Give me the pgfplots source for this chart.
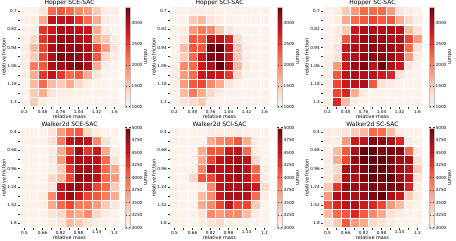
\documentclass[border=0pt]{standalone}
\usepackage{fontspec}
\setmainfont{DejaVu Sans}
\usepackage{pgfplots}
\pgfplotsset{compat=1.18}
\newcommand{\tfs}{\fontsize{4.2}{5}\selectfont}
\newcommand{\lfs}{\fontsize{4.9}{6}\selectfont}
\pgfplotsset{
 colormap={reds}{rgb255=(255,245,240) rgb255=(254,224,210) rgb255=(252,187,161) rgb255=(252,146,114) rgb255=(251,106,74) rgb255=(239,59,44) rgb255=(203,24,29) rgb255=(165,15,21) rgb255=(103,0,13)},
 heat/.style={
   scale only axis, width=99pt, height=100pt, anchor=north west,
   xmin=-0.5, xmax=10.5, ymin=-0.5, ymax=10.5, y dir=reverse,
   axis line style={draw=none},
   xtick={0,...,10}, ytick={0,...,10},
   tick pos=left, tick align=outside, major tick length=2pt,
   tick style={black!80, line width=0.4pt},
   ticklabel style={font=\tfs, inner sep=1pt},
   title style={font=\fontsize{6}{7}\selectfont, inner sep=0.5pt, anchor=south, at={(axis description cs:0.5,1)}, yshift=-6pt},
   label style={font=\lfs},
   xlabel={relative mass}, ylabel={relative friction},
   xlabel style={inner sep=0.5pt},
   ylabel style={inner sep=0.5pt},
   colormap name=reds,
   colorbar,
 },
 cb/.style={width=5.5pt, at={(parent axis.north east)}, anchor=north west,
   axis line style={draw=black!25, line width=0.3pt},
   ytick style={black!80, line width=0.4pt}, major tick length=1.5pt,
   yticklabel style={font=\tfs, inner sep=1pt},
   ylabel={return}, ylabel style={font=\lfs, rotate=180, inner sep=0.5pt},
   scaled y ticks=false},
 hop/.style={point meta min=1000, point meta max=3400,
   xticklabels={0.2,,0.48,,0.76,,1.04,,1.32,,1.6},
   yticklabels={0.7,,0.82,,0.94,,1.06,,1.18,,1.3}},
 hopcb/.style={ytick={1000,1500,2000,2500,3000}, yticklabels={1000,1500,2000,2500,3000}},
 wal/.style={point meta min=3000, point meta max=5000,
   xticklabels={0.5,,0.66,,0.82,,0.98,,1.14,,1.3},
   yticklabels={0.4,,0.68,,0.96,,1.24,,1.52,,1.8}},
 walcb/.style={ytick={3000,3250,3500,3750,4000,4250,4500,4750,5000}, yticklabels={3000,3250,3500,3750,4000,4250,4500,4750,5000}},
 cell/.style={scatter, only marks, mark=square*, mark size=4.5pt,
   scatter/use mapped color={draw=white, fill=mapped color},
   mark options={line width=0.8pt}, point meta=explicit},
}
\pgfkeys{/pgfplots/table/grid11/.style={row sep=\\, header=false, x expr={mod(\coordindex,11)}, y expr={floor(\coordindex/11)}, meta index=0}}
\begin{document}
\begin{tikzpicture}
\path[use as bounding box] (0,0) rectangle (456pt,241pt);
% ---------- Hopper SCE-SAC
\begin{axis}[heat, hop, at={(20pt,234.3pt)}, title={Hopper SCE-SAC},
  colorbar style={cb, hopcb, xshift=-2.5pt}]
\addplot[cell] table[grid11] {
1050\\1050\\1240\\2200\\2320\\2200\\1960\\1840\\1480\\1120\\1120\\
1050\\1120\\1720\\2920\\2920\\2920\\2560\\2200\\1720\\1120\\1050\\
1050\\1120\\2560\\2800\\3040\\3040\\2920\\2800\\1720\\1120\\1050\\
1050\\1360\\2560\\2920\\3160\\3160\\3040\\2920\\1720\\1480\\1120\\
1120\\1600\\2440\\3040\\3210\\3160\\3210\\3040\\2440\\1840\\1240\\
1120\\1480\\2440\\3040\\3280\\3280\\3210\\3040\\2320\\1360\\1120\\
1120\\2080\\2320\\3040\\3110\\3210\\3280\\3040\\1720\\1120\\1050\\
1120\\1720\\2560\\2920\\2560\\2200\\2320\\1720\\1240\\1050\\1050\\
1050\\1600\\2200\\1600\\1480\\1720\\1360\\1120\\1050\\1050\\1050\\
1050\\1480\\1720\\1240\\1120\\1120\\1070\\1050\\1050\\1050\\1050\\
1050\\1480\\1120\\1050\\1050\\1050\\1050\\1050\\1050\\1050\\1050\\
};
\end{axis}
% ---------- Hopper SCI-SAC
\begin{axis}[heat, hop, at={(170pt,234.3pt)}, title={Hopper SCI-SAC},
  colorbar style={cb, hopcb, xshift=-0.5pt}]
\addplot[cell] table[grid11] {
1050\\1050\\1120\\1120\\1120\\1070\\1050\\1050\\1050\\1050\\1050\\
1050\\1070\\1480\\1600\\1240\\1120\\1070\\1050\\1050\\1050\\1050\\
1050\\1120\\1840\\2080\\1960\\1480\\1240\\1070\\1050\\1050\\1050\\
1050\\1240\\2320\\2320\\2920\\2920\\2680\\1360\\1070\\1050\\1050\\
1070\\1600\\2320\\2320\\3350\\3400\\2800\\1480\\1120\\1050\\1050\\
1070\\1480\\2200\\2800\\3280\\3280\\2800\\1480\\1120\\1050\\1050\\
1120\\1960\\2200\\2800\\3040\\3400\\2920\\1600\\1120\\1050\\1050\\
1120\\1840\\2200\\2800\\2920\\2800\\2560\\1360\\1070\\1050\\1050\\
1120\\1840\\2320\\2440\\1960\\1720\\1240\\1070\\1050\\1050\\1050\\
1050\\1600\\2080\\1720\\1360\\1120\\1070\\1050\\1050\\1050\\1050\\
1050\\1240\\1360\\1480\\1120\\1050\\1050\\1050\\1050\\1050\\1050\\
};
\end{axis}
% ---------- Hopper SC-SAC
\begin{axis}[heat, hop, at={(323pt,234.3pt)}, title={Hopper SC-SAC},
  colorbar style={cb, hopcb, xshift=-1.5pt}]
\addplot[cell] table[grid11] {
1050\\1120\\1480\\1840\\2200\\2200\\2200\\1840\\1240\\1120\\1050\\
1050\\1120\\1720\\2200\\2320\\2440\\2320\\2320\\1720\\1360\\1120\\
1050\\1120\\1480\\2800\\3040\\3040\\3040\\3040\\2920\\1600\\1240\\
1050\\1120\\2320\\2920\\3160\\3160\\3160\\3040\\3040\\2440\\1840\\
1050\\1240\\2800\\3040\\3160\\3210\\3210\\3160\\3040\\2200\\1240\\
1050\\1240\\2800\\3040\\3210\\3210\\3280\\3160\\2920\\1840\\1120\\
1120\\1840\\2800\\3160\\3280\\2920\\3400\\3040\\2800\\1240\\1050\\
1120\\2320\\2920\\3040\\3040\\2920\\2800\\2680\\1240\\1050\\1050\\
1120\\2440\\2800\\2920\\3040\\2320\\1240\\1120\\1050\\1050\\1050\\
1120\\2440\\2680\\1720\\1120\\1050\\1050\\1050\\1050\\1050\\1050\\
1120\\2680\\1600\\1120\\1050\\1050\\1050\\1050\\1050\\1050\\1050\\
};
\end{axis}
% ---------- Walker2d SCE-SAC
\begin{axis}[heat, wal, at={(20pt,113.3pt)}, title={Walker2d SCE-SAC},
  colorbar style={cb, walcb, xshift=-2.5pt}]
\addplot[cell] table[grid11] {
3040\\3040\\3040\\3200\\3700\\4000\\4100\\3300\\3100\\3040\\3040\\
3040\\3040\\3040\\3200\\3900\\4600\\4700\\4600\\3800\\3200\\3040\\
3040\\3040\\3040\\3100\\3600\\4200\\4800\\4300\\4500\\3600\\3100\\
3040\\3040\\3040\\3100\\3700\\4500\\4760\\4700\\4600\\4000\\3200\\
3040\\3040\\3040\\3100\\3400\\4300\\4760\\4760\\4600\\4000\\3600\\
3040\\3040\\3040\\3300\\3500\\4200\\4840\\4800\\4600\\4000\\3700\\
3040\\3040\\3040\\3200\\4600\\4800\\4800\\4600\\4200\\4000\\3400\\
3040\\3040\\3100\\3800\\4500\\4800\\4500\\4200\\4100\\3900\\3600\\
3040\\3040\\3100\\3600\\4000\\4200\\3900\\3900\\3700\\3400\\3200\\
3040\\3040\\3040\\3200\\3300\\3700\\3600\\3800\\3300\\3100\\3040\\
3040\\3040\\3040\\3100\\3200\\3500\\3400\\3200\\3100\\3040\\3040\\
};
\end{axis}
% ---------- Walker2d SCI-SAC
\begin{axis}[heat, wal, at={(170pt,113.3pt)}, title={Walker2d SCI-SAC},
  colorbar style={cb, walcb, xshift=-0.5pt}]
\addplot[cell] table[grid11] {
3040\\3040\\3040\\3040\\3100\\3100\\3100\\3100\\3060\\3040\\3040\\
3040\\3040\\3040\\3040\\3600\\3800\\3900\\4100\\3600\\3100\\3040\\
3040\\3040\\3040\\3600\\4100\\4100\\4500\\4600\\4000\\3100\\3040\\
3040\\3040\\3040\\3600\\4200\\4600\\4700\\4760\\4600\\3300\\3040\\
3040\\3040\\3040\\3800\\4700\\4600\\4700\\4800\\4600\\4000\\3100\\
3040\\3040\\3300\\4100\\4200\\4600\\4700\\4760\\4600\\4100\\3100\\
3040\\3040\\3040\\3100\\3800\\4600\\4700\\4700\\4700\\4500\\3300\\
3040\\3040\\3040\\3500\\3800\\4500\\4700\\4700\\4600\\4000\\3100\\
3040\\3040\\3040\\3600\\3800\\4200\\4600\\4200\\4200\\3400\\3040\\
3040\\3040\\3040\\3200\\3800\\3700\\3800\\3800\\3500\\3100\\3040\\
3040\\3040\\3040\\3100\\3200\\3300\\3100\\3040\\3040\\3040\\3040\\
};
\end{axis}
% ---------- Walker2d SC-SAC
\begin{axis}[heat, wal, at={(323pt,113.3pt)}, title={Walker2d SC-SAC},
  colorbar style={cb, walcb, xshift=-1.5pt}]
\addplot[cell] table[grid11] {
3100\\3100\\3200\\3400\\3500\\4000\\4000\\3500\\3100\\3040\\3040\\
3100\\3100\\3700\\4500\\4600\\4900\\4840\\4700\\4400\\3100\\3040\\
3100\\3500\\4100\\4700\\5000\\5000\\4900\\4900\\4900\\4000\\3100\\
3100\\3600\\4200\\4800\\5000\\5000\\5000\\4900\\4800\\4700\\3200\\
3100\\3300\\4700\\4800\\4900\\5000\\5000\\4900\\4800\\4600\\3400\\
3100\\3400\\4700\\4700\\4900\\5000\\5000\\5000\\4800\\4600\\3200\\
3400\\4300\\4800\\4800\\4800\\4900\\4900\\4900\\4900\\4400\\3100\\
3700\\4700\\4700\\4700\\4800\\4900\\5000\\4700\\4500\\3400\\3100\\
4100\\4400\\4600\\4700\\4500\\4400\\4200\\3700\\3500\\3100\\3040\\
3500\\4000\\4100\\4400\\4100\\3800\\3600\\3200\\3100\\3040\\3040\\
3200\\3400\\4100\\3700\\3600\\3300\\3200\\3100\\3040\\3040\\3040\\
};
\end{axis}
\end{tikzpicture}
\end{document}
